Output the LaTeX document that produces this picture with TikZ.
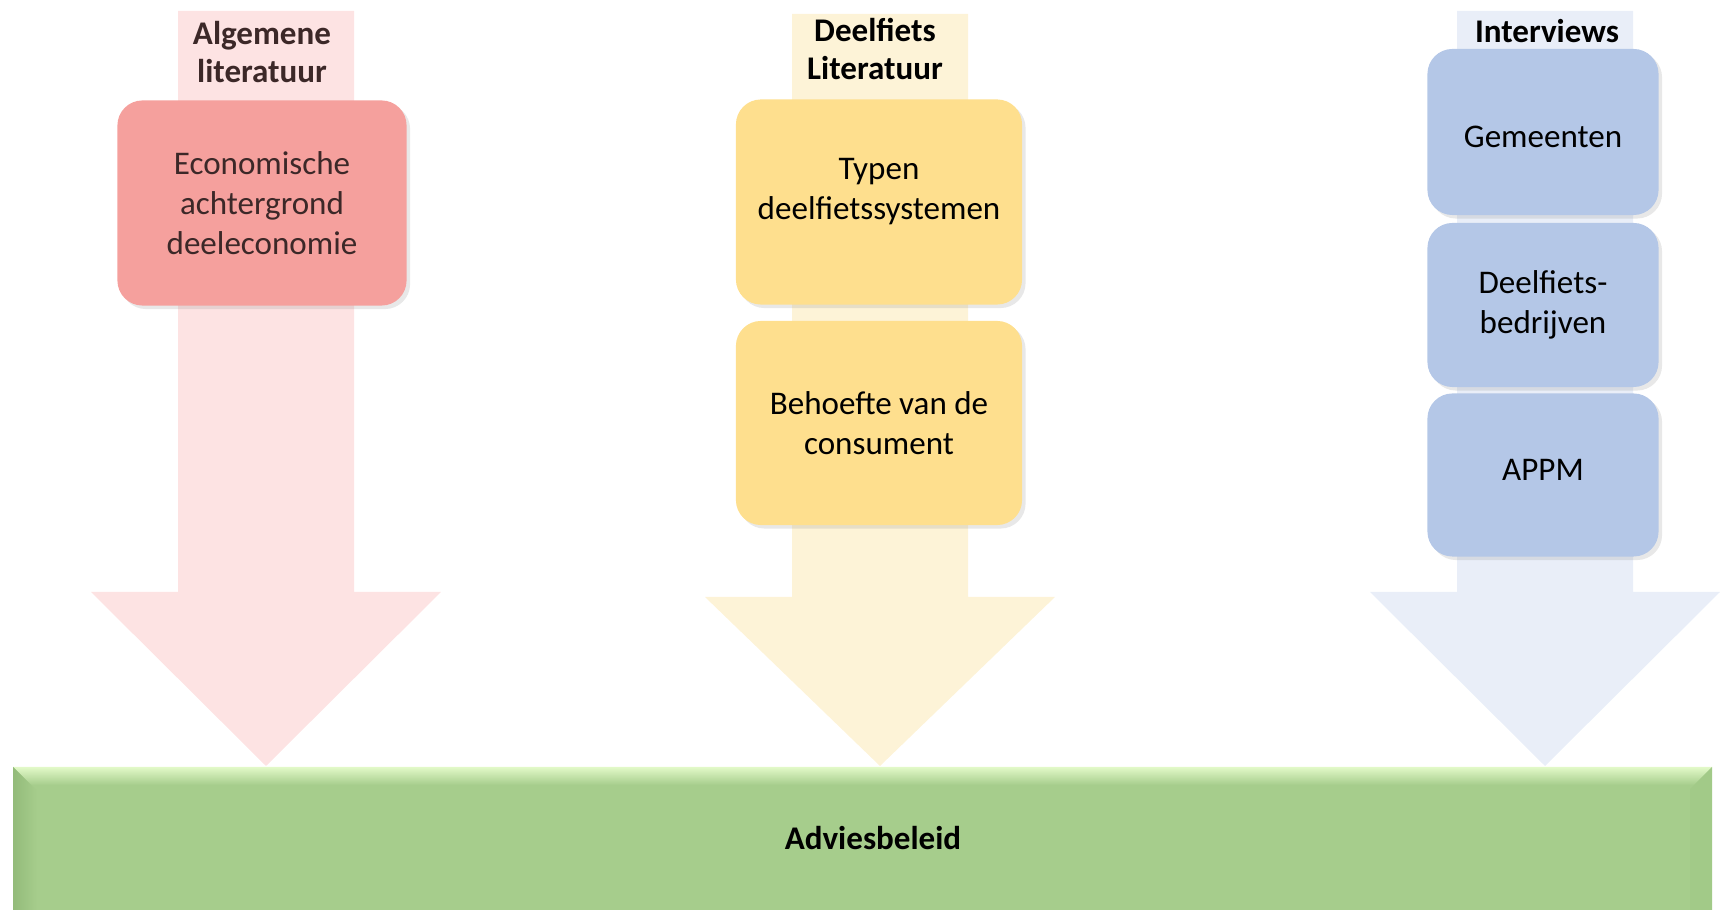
\documentclass[tikz,border=0pt]{standalone}
\usepackage{fontspec}
\setmainfont{Carlito}
\usepackage{tikz}
\usetikzlibrary{shadows}

\definecolor{redbox}{HTML}{F5A09D}
\definecolor{redarrow}{HTML}{FDE3E3}
\definecolor{yelbox}{HTML}{FEDF8E}
\definecolor{yelarrow}{HTML}{FDF3D7}
\definecolor{bluebox}{HTML}{B4C7E7}
\definecolor{bluearrow}{HTML}{E9EEF8}
\definecolor{advgreen}{HTML}{A6CD8C}
\definecolor{bevtop}{HTML}{E2F9C8}
\definecolor{bevleft}{HTML}{93BB7A}
\definecolor{bevright}{HTML}{A2CA88}
\definecolor{redtext}{HTML}{3C2828}

% big down arrow: centre x, top y, head y, colour
\newcommand\flowarrow[4]{\fill[#4] (#1-88,#2) -- (#1+88,#2) -- (#1+88,#3) -- (#1+175,#3) -- (#1,766) -- (#1-175,#3) -- (#1-88,#3) -- cycle;}

\tikzset{
  txt/.style={font=\fontsize{9.4}{11.4}\selectfont, align=center},
  title/.style={txt, font=\fontsize{9.4}{10.8}\selectfont\bfseries},
  card/.style={txt, rounded corners=0.25cm, inner sep=0pt,
    drop shadow={shadow xshift=1pt, shadow yshift=-1pt, opacity=0.18}},
}

\begin{document}
\begin{tikzpicture}[x=0.01cm, y=-0.01cm]
  \useasboundingbox (0,0) rectangle (1720,910);

  %%%%% arrows %%%%%
  \flowarrow{266}{11}{592}{redarrow}
  \flowarrow{880}{14}{597}{yelarrow}
  \flowarrow{1545}{11}{592}{bluearrow}

  %%%%% Adviesbeleid bar %%%%%
  \fill[advgreen] (13,767) rectangle (1712,912);
  \shade[top color=bevtop, bottom color=advgreen] (13,767) -- (1712,767) -- (1694,785) -- (31,785) -- cycle;
  \shade[left color=bevleft, right color=advgreen] (13,767) -- (37,791) -- (37,912) -- (13,912) -- cycle;
  \fill[bevright] (1712,767) -- (1690,789) -- (1690,912) -- (1712,912) -- cycle;
  \node[title] (advies) at (873,838) {Adviesbeleid};

  %%%%% Algemene literatuur %%%%%
  \node[title, text=redtext] (algtitle) at (262,52) {Algemene\\literatuur};
  \node[card, fill=redbox, text=redtext, minimum width=2.89cm, minimum height=2.05cm] (econ) at (262,203) {Economische\\achtergrond\\deeleconomie};

  %%%%% Deelfiets literatuur %%%%%
  \node[title] (deeltitle) at (875,49) {Deelfiets\\Literatuur};
  \node[card, fill=yelbox, minimum width=2.86cm, minimum height=2.05cm] (typen) at (879,202) {};
  \node[txt] (typentxt) at (879,192) {Typen\\deelfietssystemen};
  \node[card, fill=yelbox, minimum width=2.86cm, minimum height=2.04cm] (behoefte) at (879,423) {Behoefte van de\\consument};

  %%%%% Interviews %%%%%
  \node[title] (inttitle) at (1547,31) {Interviews};
  \node[card, fill=bluebox, minimum width=2.31cm, minimum height=1.66cm] (gemeenten) at (1543,132) {};
  \node[txt] (gemtxt) at (1543,137) {Gemeenten};
  \node[card, fill=bluebox, minimum width=2.31cm, minimum height=1.64cm] (bedrijven) at (1543,305) {Deelfiets-\\bedrijven};
  \node[card, fill=bluebox, minimum width=2.31cm, minimum height=1.63cm] (appm) at (1543,475) {};
  \node[txt] (appmtxt) at (1543,470) {APPM};
\end{tikzpicture}
\end{document}
